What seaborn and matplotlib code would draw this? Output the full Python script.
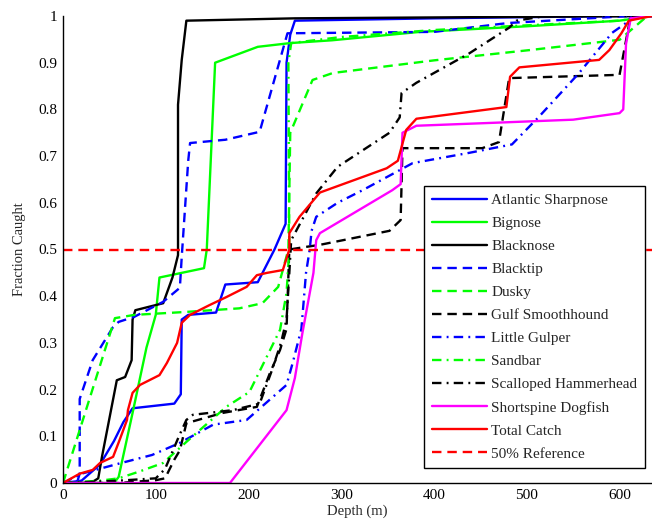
import matplotlib
matplotlib.use("Agg")
import matplotlib.pyplot as plt
import seaborn as sns

# Cumulative fraction of catch versus depth (m) for each species
atlantic_sharpnose_x = [0, 20, 40, 55, 65, 75, 120, 127, 128, 135, 165, 175, 210, 228, 240, 241, 245, 250, 400, 600, 635]
atlantic_sharpnose_y = [0, 0.005, 0.04, 0.09, 0.13, 0.16, 0.17, 0.19, 0.35, 0.36, 0.365, 0.425, 0.43, 0.5, 0.555, 0.9, 0.96, 0.99, 0.995, 1.0, 1.0]

bignose_x = [0, 55, 60, 75, 90, 100, 104, 128, 152, 155, 164, 210, 245, 290, 385, 500, 600, 635]
bignose_y = [0, 0, 0.013, 0.15, 0.29, 0.36, 0.44, 0.45, 0.46, 0.5, 0.9, 0.934, 0.942, 0.948, 0.966, 0.978, 0.99, 1.0]

blacknose_x = [0, 30, 38, 42, 58, 67, 74, 75, 78, 108, 118, 124, 124, 128, 133, 250, 635]
blacknose_y = [0, 0, 0.01, 0.056, 0.22, 0.227, 0.263, 0.35, 0.37, 0.385, 0.44, 0.488, 0.81, 0.906, 0.99, 0.995, 1.0]

blacktip_x = [0, 15, 18, 18, 32, 54, 60, 77, 108, 126, 128, 135, 137, 175, 212, 239, 242, 400, 480, 610, 635]
blacktip_y = [0, 0, 0.02, 0.18, 0.263, 0.334, 0.345, 0.356, 0.388, 0.418, 0.484, 0.69, 0.728, 0.735, 0.752, 0.942, 0.963, 0.966, 0.985, 1.0, 1.0]

dusky_x = [0, 56, 77, 130, 190, 215, 232, 243, 245, 269, 291, 400, 503, 600, 630, 635]
dusky_y = [0, 0.353, 0.36, 0.366, 0.374, 0.385, 0.42, 0.5, 0.75, 0.863, 0.878, 0.905, 0.927, 0.949, 1.0, 1.0]

gulf_smoothhound_x = [0, 60, 100, 110, 120, 126, 133, 172, 209, 223, 234, 241, 244, 260, 277, 352, 364, 366, 452, 470, 481, 600, 612, 635]
gulf_smoothhound_y = [0, 0, 0.006, 0.01, 0.05, 0.07, 0.128, 0.15, 0.163, 0.235, 0.285, 0.33, 0.5, 0.505, 0.51, 0.54, 0.563, 0.717, 0.717, 0.73, 0.867, 0.874, 1.0, 1.0]

little_gulper_x = [0, 20, 63, 96, 126, 162, 198, 241, 248, 257, 262, 266, 268, 273, 296, 323, 377, 438, 484, 513, 556, 592, 607, 614, 635]
little_gulper_y = [0, 0.02, 0.043, 0.06, 0.086, 0.125, 0.135, 0.21, 0.26, 0.33, 0.45, 0.5, 0.54, 0.57, 0.6, 0.627, 0.685, 0.707, 0.725, 0.784, 0.877, 0.964, 0.985, 1.0, 1.0]

sandbar_x = [0, 40, 60, 83, 108, 133, 176, 201, 234, 241, 244, 243, 246, 300, 400, 500, 600, 635]
sandbar_y = [0, 0.005, 0.01, 0.025, 0.043, 0.088, 0.163, 0.195, 0.328, 0.407, 0.5, 0.9, 0.942, 0.955, 0.97, 0.98, 0.99, 1.0]

scalloped_hammerhead_x = [0, 60, 100, 110, 125, 133, 140, 183, 212, 225, 235, 241, 244, 246, 273, 296, 352, 363, 365, 381, 438, 481, 489, 520, 635]
scalloped_hammerhead_y = [0, 0.005, 0.01, 0.03, 0.1, 0.135, 0.146, 0.156, 0.17, 0.24, 0.3, 0.35, 0.45, 0.52, 0.62, 0.677, 0.75, 0.783, 0.835, 0.857, 0.92, 0.975, 0.99, 1.0, 1.0]

shortspine_dogfish_x = [0, 180, 241, 250, 258, 270, 273, 277, 355, 364, 366, 381, 460, 550, 600, 604, 607, 612, 635]
shortspine_dogfish_y = [0, 0, 0.156, 0.225, 0.32, 0.45, 0.52, 0.535, 0.627, 0.64, 0.75, 0.765, 0.771, 0.778, 0.792, 0.8, 0.94, 0.995, 1.0]

total_catch_x = [0, 18, 32, 40, 54, 61, 69, 70, 75, 83, 104, 112, 123, 128, 137, 158, 176, 198, 209, 220, 237, 244, 244, 255, 277, 349, 361, 370, 381, 478, 482, 492, 578, 589, 602, 610, 635]
total_catch_y = [0, 0.02, 0.028, 0.043, 0.056, 0.092, 0.135, 0.156, 0.193, 0.21, 0.231, 0.257, 0.3, 0.343, 0.36, 0.381, 0.398, 0.42, 0.445, 0.45, 0.456, 0.5, 0.535, 0.57, 0.622, 0.674, 0.69, 0.756, 0.78, 0.805, 0.87, 0.89, 0.906, 0.927, 0.963, 0.99, 1.0]

reference_x = [0, 635]
reference_y = [0.5, 0.5]

labels = ["Atlantic Sharpnose", "Bignose", "Blacknose", "Blacktip", "Dusky",
          "Gulf Smoothhound", "Little Gulper", "Sandbar", "Scalloped Hammerhead",
          "Shortspine Dogfish", "Total Catch", "50% Reference"]

series = [
    (atlantic_sharpnose_x, atlantic_sharpnose_y),
    (bignose_x, bignose_y),
    (blacknose_x, blacknose_y),
    (blacktip_x, blacktip_y),
    (dusky_x, dusky_y),
    (gulf_smoothhound_x, gulf_smoothhound_y),
    (little_gulper_x, little_gulper_y),
    (sandbar_x, sandbar_y),
    (scalloped_hammerhead_x, scalloped_hammerhead_y),
    (shortspine_dogfish_x, shortspine_dogfish_y),
    (total_catch_x, total_catch_y),
    (reference_x, reference_y),
]

blue, green, black, magenta, red = "#0000ff", "#00ff00", "#000000", "#ff00ff", "#ff0000"
solid = "-"
dashed = (0, (4, 2.5))
dashdot = (0, (4, 2.2, 0.8, 2.2))
styles = [
    (blue, solid), (green, solid), (black, solid),
    (blue, dashed), (green, dashed), (black, dashed),
    (blue, dashdot), (green, dashdot), (black, dashdot),
    (magenta, solid), (red, solid), (red, dashed),
]

sns.set_style("white")
plt.rcParams["font.family"] = ["Liberation Serif", "DejaVu Serif"]

fig = plt.figure(figsize=(6.52, 5.29), dpi=100)
ax = fig.add_axes([63 / 652, 46 / 529, 1 - 63 / 652, (483 - 16) / 529])

for (xs, ys), (color, ls), name in zip(series, styles, labels):
    sns.lineplot(x=xs, y=ys, ax=ax, color=color, linestyle=ls, linewidth=1.7,
                 estimator=None, sort=False, label=name)

ax.set_xlim(0, 635)
ax.set_ylim(0, 1)
ax.set_xticks([0, 100, 200, 300, 400, 500, 600])
ax.set_yticks([0, 0.1, 0.2, 0.3, 0.4, 0.5, 0.6, 0.7, 0.8, 0.9, 1.0])
ax.set_yticklabels(["0", "0.1", "0.2", "0.3", "0.4", "0.5", "0.6", "0.7", "0.8", "0.9", "1"])
ax.tick_params(direction="in", length=5, width=1, labelsize=11, colors="black", pad=4)
for side in ["top", "right"]:
    ax.spines[side].set_visible(False)
for side in ["left", "bottom"]:
    ax.spines[side].set_color("black")
    ax.spines[side].set_linewidth(1.0)
ax.set_xlabel("Depth (m)", fontsize=10.5, labelpad=2)
ax.set_ylabel("Fraction Caught", fontsize=10.5, labelpad=9)

leg = ax.legend(loc="upper left", bbox_to_anchor=(424 / 652, 1 - 186 / 529),
                bbox_transform=fig.transFigure, fontsize=11, frameon=True,
                fancybox=False, framealpha=1.0, handlelength=3.6, handletextpad=0.3,
                labelspacing=0.61, borderpad=0.5, borderaxespad=0)
leg.get_frame().set_edgecolor("black")
leg.get_frame().set_linewidth(1.0)

fig.savefig("out.png", dpi=100)
